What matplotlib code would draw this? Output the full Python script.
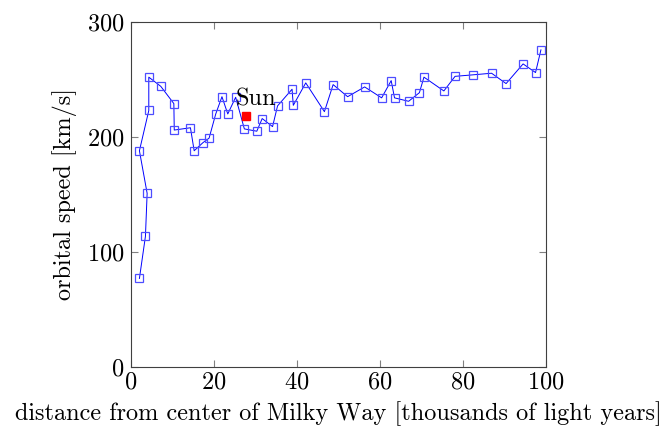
import numpy as np
import matplotlib
matplotlib.use("Agg")
import matplotlib.pyplot as plt

plt.rcParams['font.family'] = 'serif'
plt.rcParams['font.serif'] = ['cmr10']
plt.rcParams['mathtext.fontset'] = 'cm'
plt.rcParams['axes.formatter.use_mathtext'] = True

# orbital speed curve
dist = [2.0, 3.45, 3.86, 2.0, 4.26, 4.26, 7.15, 10.3, 10.4, 14.3, 15.2, 17.3,
        18.8, 20.4, 21.9, 23.3, 25.2, 27.3, 30.3, 31.6, 34.1, 35.3, 38.8, 39.1,
        42.1, 46.6, 48.7, 52.2, 56.3, 60.4, 62.7, 63.5, 66.9, 69.5, 70.6, 75.4,
        78.1, 82.4, 86.9, 90.4, 94.5, 97.5, 98.8]
speed = [77, 113.6, 151, 188, 223, 252, 244, 229, 206, 208, 188, 195,
         199, 220, 235, 220, 234.5, 207, 205, 216, 209, 227, 241.5, 227.5,
         247, 222, 245.5, 235, 243.5, 234, 249, 234, 231, 238.5, 252, 240,
         252.7, 254, 255.4, 246.4, 263.5, 256, 275.7]
sun_x = [27.6]
sun_y = [218]

fig = plt.figure(figsize=(6.69, 4.30), dpi=100)
ax = fig.add_axes([0.196, 0.1465, 0.62, 0.8025])

ax.plot(dist, speed, color='blue', lw=0.7, marker='s', ms=5.8,
        mfc='none', mec=(0.3, 0.3, 1.0), mew=0.9)
ax.plot(sun_x, sun_y, 's', color='red', ms=5.5)
ax.text(25.3, 227, 'Sun', fontsize=17.5, ha='left', va='baseline')

ax.set_xlim(0, 100)
ax.set_ylim(0, 300)
ax.set_xticks([0, 20, 40, 60, 80, 100])
ax.set_yticks([0, 100, 200, 300])
ax.tick_params(direction='in', top=True, right=True, length=5,
               color='0.5', labelsize=17.5)
ax.tick_params(axis='x', pad=3.5)
ax.tick_params(axis='y', pad=5)
for s in ax.spines.values():
    s.set_color('0.25')
    s.set_linewidth(0.8)

ax.set_xlabel('distance from center of Milky Way [thousands of light years]',
              fontsize=17.5, labelpad=5)
ax.set_ylabel('orbital speed [km/s]', fontsize=17.5, labelpad=7)

fig.savefig('out.png', dpi=100)
